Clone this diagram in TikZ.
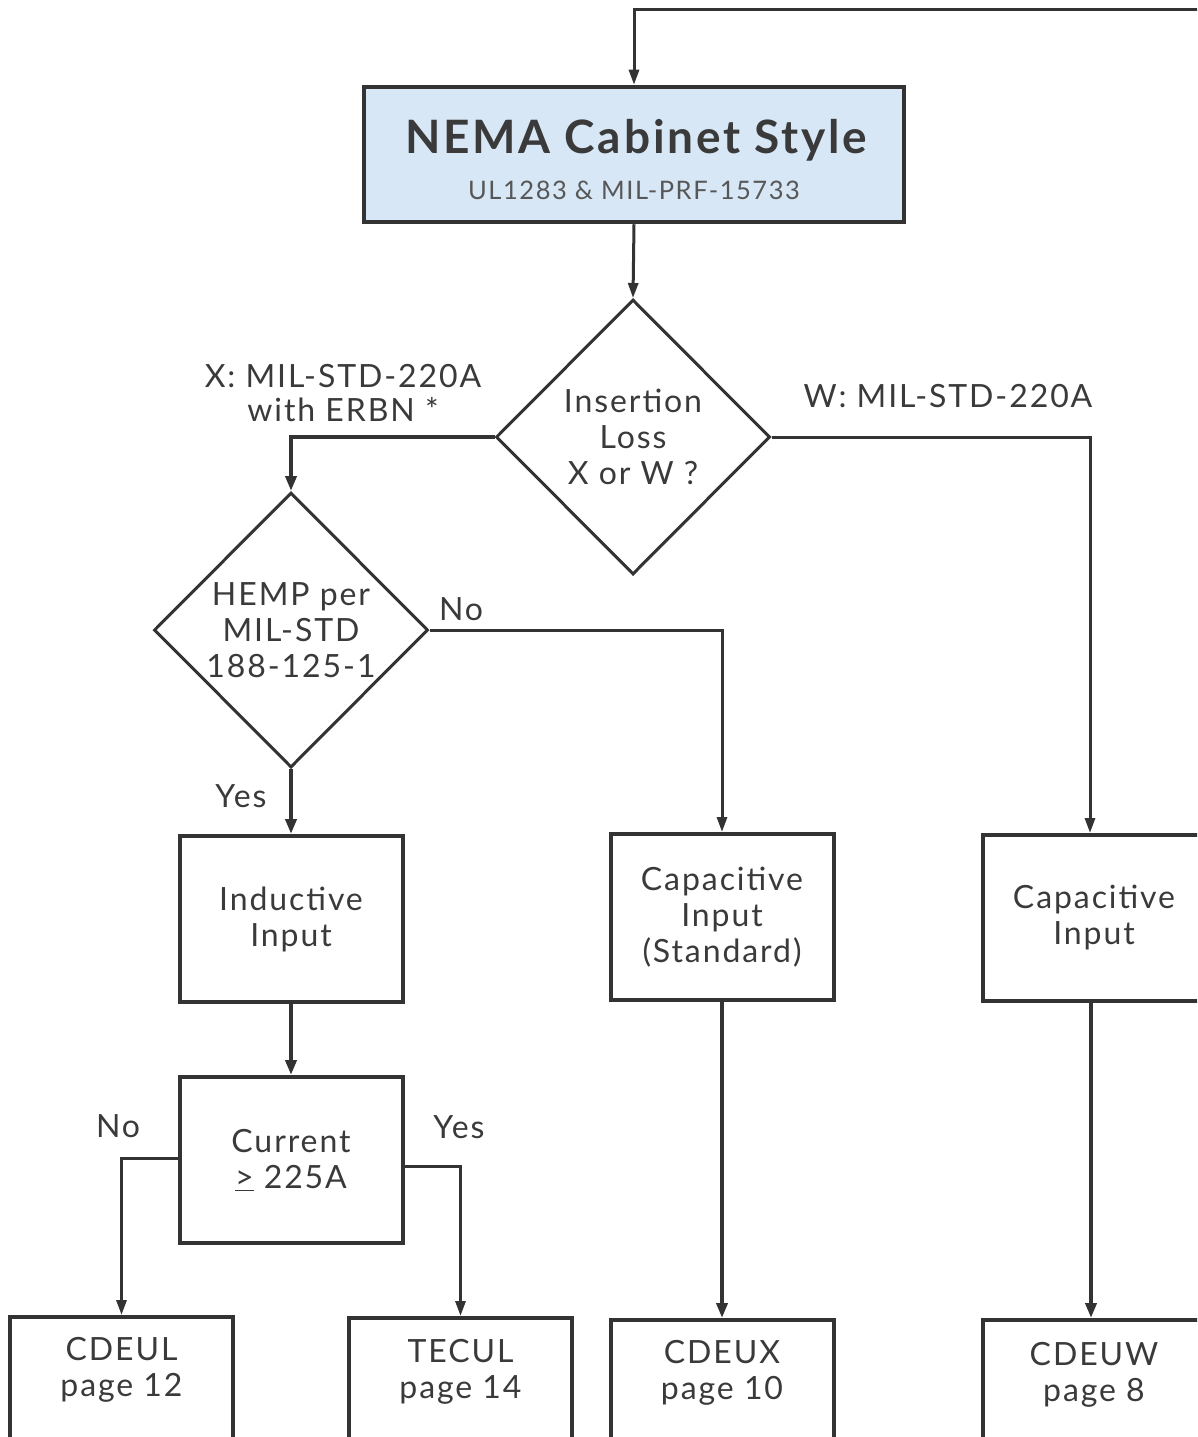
\documentclass[tikz,border=0pt]{standalone}
\usepackage{fontspec}
\setmainfont{Lato}[LetterSpace=6]
\usetikzlibrary{shapes.geometric,arrows.meta,calc}
\definecolor{ln}{HTML}{333333}
\definecolor{tx}{HTML}{3A3A3A}
\definecolor{tbl}{HTML}{D7E7F6}
\begin{document}
\begin{tikzpicture}[x=1pt,y=-1pt,
  txt/.style={text=tx,align=center,inner sep=0pt,font=\fontsize{32}{36}\selectfont},
  box/.style={txt,draw=ln,line width=4pt,minimum width=223pt,minimum height=166pt},
  dia/.style={txt,diamond,draw=ln,line width=3pt,minimum width=274pt,minimum height=275pt},
  conn/.style={draw=ln,line width=3pt,-{Triangle[length=15pt,width=10pt]}},
  thick conn/.style={conn,line width=4.5pt,-{Triangle[length=15pt,width=11pt]}},
  lbl/.style={txt}]
\path[use as bounding box] (0,0) rectangle (1197,1437);
\clip (0,0) rectangle (1197,1437);

% title
\node[draw=ln,line width=4.5pt,fill=tbl,minimum width=540pt,minimum height=135pt,inner sep=0pt] (title) at (634,154.5) {};
\node[text=tx,inner sep=0pt,font=\fontsize{46}{50}\selectfont\bfseries] (titletext) at (636,140) {NEMA Cabinet Style};
\node[text=tx!85,inner sep=0pt,font=\fontsize{25.5}{30}\selectfont] (subtext) at (634,190) {UL1283 \& MIL-PRF-15733};
\coordinate (fb) at (1260,10);

% decisions
\node[dia] (ins) at (633,437) {Insertion\\Loss\\X or W ?};
\node[dia] (hemp) at (291,630) {HEMP per\\MIL-STD\\188-125-1};

% boxes
\node[box] (ind) at (291,919) {Inductive\\Input};
\node[box] (cur) at (291,1160) {Current\\\underline{>} 225A};
\node[box] (caps) at (722,917) {Capacitive\\Input\\(Standard)};
\node[box] (capw) at (1094,918) {Capacitive\\Input};

\node[box] (cdeul) at (121.5,1400) {};
\node[box] (tecul) at (460.5,1401) {};
\node[box] (cdeux) at (722,1403) {};
\node[box] (cdeuw) at (1094,1403) {};
\node[txt] (cdeult) at ($(cdeul.north)+(0,55)$) {CDEUL\\page 12};
\node[txt] (tecult) at ($(tecul.north)+(0,56)$) {TECUL\\page 14};
\node[txt] (cdeuxt) at ($(cdeux.north)+(0,55)$) {CDEUX\\page 10};
\node[txt] (cdeuwt) at ($(cdeuw.north)+(0,57)$) {CDEUW\\page 8};

% labels
\node[lbl,font=\fontsize{32}{34}\selectfont] (lx) at (343,393) {X: MIL-STD-220A\\with ERBN *};
\node[lbl] (lw) at (948,396) {W: MIL-STD-220A};
\node[lbl] (lno1) at (461,609) {No};
\node[lbl] (lyes1) at (241,796) {Yes};
\node[lbl] (lno2) at (118,1126) {No};
\node[lbl] (lyes2) at (459,1127) {Yes};

% connectors
\draw[conn] (fb) -| (title.north);
\draw[conn] (title.south) -- (ins.north);
\draw[thick conn] (ins.west) -| (hemp.north);
\draw[conn] (ins.east) -| ($(capw.north)+(-4,0)$);
\draw[conn] (hemp.east) -| (caps.north);
\draw[thick conn] (hemp.south) -- (ind.north);
\draw[thick conn] (ind.south) -- (cur.north);
\draw[conn] ($(cur.west)+(0,-2)$) -| (cdeul.north);
\draw[conn] ($(cur.east)+(0,6)$) -| (tecul.north);
\draw[thick conn] (caps.south) -- (cdeux.north);
\draw[thick conn] ($(capw.south)+(-3,0)$) -- ($(cdeuw.north)+(-3,0)$);
\end{tikzpicture}
\end{document}
